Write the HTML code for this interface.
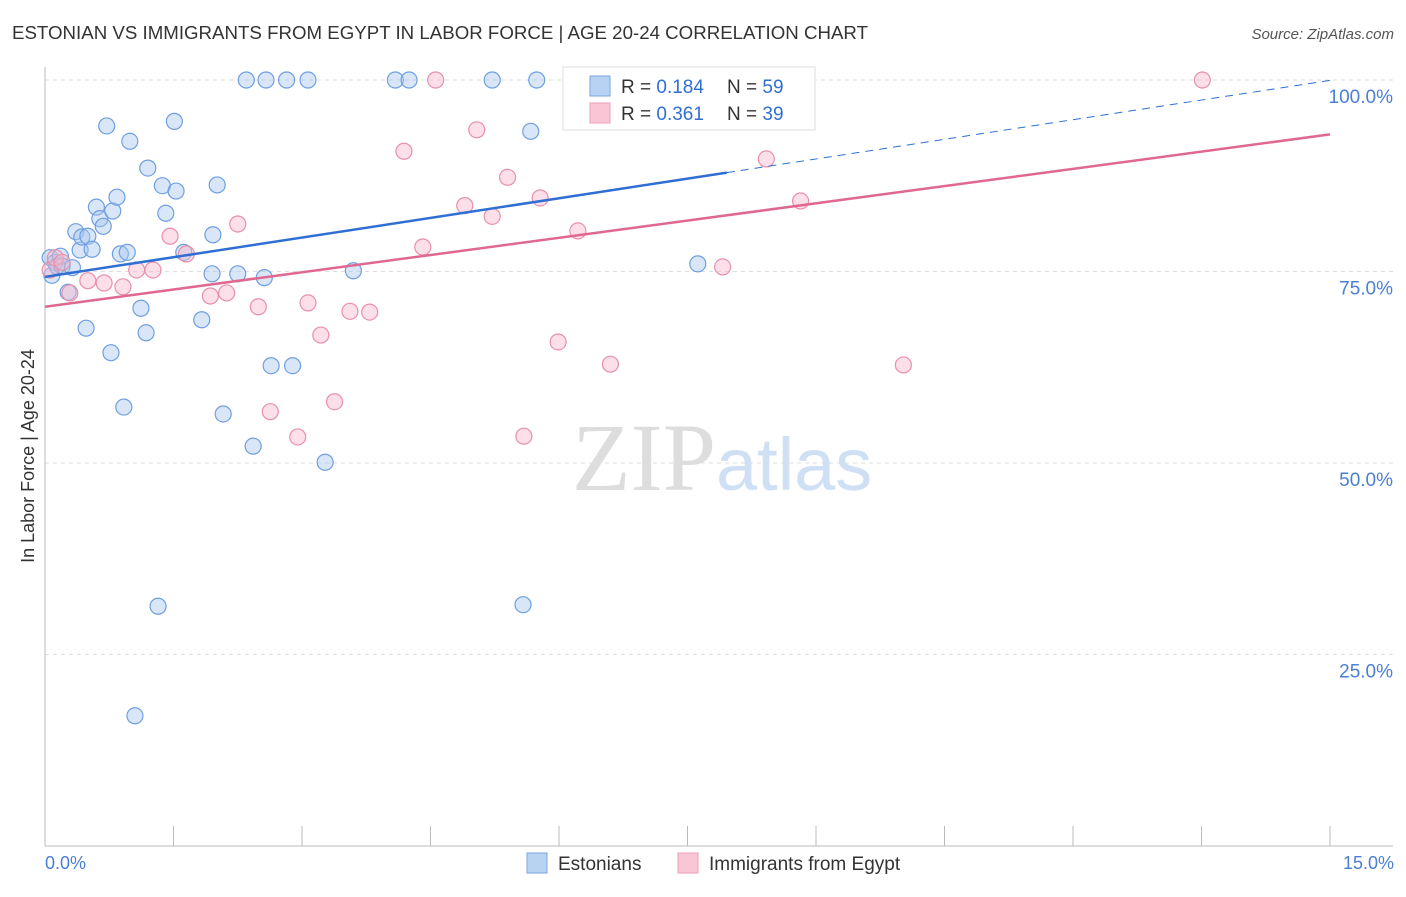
<!DOCTYPE html>
<html><head><meta charset="utf-8"><style>
body{margin:0;background:#fff;font-family:"Liberation Sans",sans-serif;}
</style></head><body>
<svg width="1406" height="892" xmlns="http://www.w3.org/2000/svg" font-family="Liberation Sans, sans-serif">
<text x="12" y="39" font-size="18" fill="#333" textLength="856" lengthAdjust="spacingAndGlyphs">ESTONIAN VS IMMIGRANTS FROM EGYPT IN LABOR FORCE | AGE 20-24 CORRELATION CHART</text>
<text x="1394" y="39" font-size="15" fill="#555" text-anchor="end" font-style="italic">Source: ZipAtlas.com</text>
<g id="grid"></g>
<text x="716" y="490" font-size="96" fill="#ddd" text-anchor="end" font-family="Liberation Serif, serif">ZIP</text>
<text x="716" y="490" font-size="74" fill="#cfe0f5">atlas</text>
<g id="pts"></g>
<g id="reg"></g>
<text transform="translate(34,456) rotate(-90)" font-size="18" fill="#333" text-anchor="middle">In Labor Force | Age 20-24</text>
<text x="45" y="869" font-size="18" fill="#4a7fd4">0.0%</text>
<text x="1394" y="869" font-size="18" fill="#4a7fd4" text-anchor="end">15.0%</text>
<g>
<rect x="563" y="67" width="252" height="63" fill="#fff" stroke="#ddd"/>
<rect x="590" y="76" width="20" height="20" fill="#b8d2f4" stroke="#7aa6e0"/>
<rect x="590" y="103" width="20" height="20" fill="#f9c6d5" stroke="#eba0b8"/>
<text x="621" y="93" font-size="19" fill="#333">R = <tspan fill="#2f6fd4">0.184</tspan></text>
<text x="727" y="93" font-size="19" fill="#333">N = <tspan fill="#2f6fd4">59</tspan></text>
<text x="621" y="120" font-size="19" fill="#333">R = <tspan fill="#2f6fd4">0.361</tspan></text>
<text x="727" y="120" font-size="19" fill="#333">N = <tspan fill="#2f6fd4">39</tspan></text>
</g>
<g>
<rect x="527" y="853" width="20" height="20" fill="#b8d2f4" stroke="#7aa6e0"/>
<text x="558" y="870" font-size="19" fill="#333">Estonians</text>
<rect x="678" y="853" width="20" height="20" fill="#f9c6d5" stroke="#eba0b8"/>
<text x="709" y="870" font-size="19" fill="#333">Immigrants from Egypt</text>
</g>
</svg>
<script>
const yTicks=[100,75,50,25];
const yTickLabels=["100.0%","75.0%","50.0%","25.0%"];
const blueX=[.06,.08,.12,.14,.18,.20,.27,.32,.36,.41,.43,.48,.50,.55,.60,.64,.68,.72,.77,.79,.84,.88,.92,.96,.99,1.05,1.12,1.18,1.20,1.32,1.37,1.41,1.51,1.53,1.62,1.83,1.95,1.96,2.01,2.08,2.25,2.35,2.43,2.56,2.58,2.64,2.82,2.89,3.07,3.27,3.60,4.09,4.25,5.22,5.58,5.67,5.74,7.62,7.86];
const blueY=[76.8,74.5,76.2,75.7,77.0,75.7,72.3,75.5,80.2,77.8,79.5,67.6,79.6,77.9,83.4,81.9,80.9,94.0,64.4,82.9,84.7,77.3,57.3,77.5,92.0,17.0,70.2,67.0,88.5,31.3,86.2,82.6,94.6,85.5,77.5,68.7,74.7,79.8,86.3,56.4,74.7,100,52.2,74.2,100,62.7,100,62.7,100,50.1,75.1,100,100,100,31.5,93.3,100,76.0,100];
const pinkX=[.06,.12,.20,.29,.50,.69,.91,1.07,1.26,1.46,1.65,1.93,2.12,2.25,2.49,2.63,2.95,3.07,3.22,3.38,3.56,3.79,4.19,4.41,4.56,4.90,5.04,5.22,5.40,5.59,5.78,5.99,6.22,6.60,7.91,8.42,8.82,10.02,13.51];
const pinkY=[75.2,76.8,76.2,72.2,73.8,73.5,73.0,75.2,75.2,79.6,77.3,71.8,72.2,81.2,70.4,56.7,53.4,70.9,66.7,58.0,69.8,69.7,90.7,78.2,100,83.6,93.5,82.2,87.3,53.5,84.6,65.8,80.3,62.9,75.6,89.7,84.2,62.8,100];
const blueReg=[74.3,1.71], pinkReg=[70.4,1.5];
const NS="http://www.w3.org/2000/svg";
const sx=v=>45+v/15*1285, sy=v=>846-v/100*766;
function mk(tag,attrs,parent){const e=document.createElementNS(NS,tag);for(const k in attrs)e.setAttribute(k,attrs[k]);parent.appendChild(e);return e;}
const g=document.getElementById('grid');
yTicks.forEach((t,i)=>{
 const l=mk('line',{x1:45,x2:1393,y1:sy(t),y2:sy(t),stroke:'#ddd','stroke-dasharray':'4,4'},g);
 
 
 const tx=mk('text',{x:1393,y:sy(t)+23,'font-size':19,fill:'#4a7fd4','text-anchor':'end'},g);
 tx.textContent=yTickLabels[i];
 
 
});
let ax=mk('line',{x1:45,x2:1393,y1:846,y2:846,stroke:'#bbb'},g);


let ay=mk('line',{x1:45,x2:45,y1:67,y2:846,stroke:'#bbb'},g);


for(let i=1;i<=10;i++){const t=mk('line',{x1:sx(i*1.5),x2:sx(i*1.5),y1:826,y2:846,stroke:'#bbb'},g);
 
 }
const p=document.getElementById('pts');
function dots(X,Y,fill,stroke,name){X.forEach((x,i)=>{const c=mk('circle',{cx:sx(x),cy:sy(Y[i]),r:8,fill:fill,'fill-opacity':0.45,stroke:stroke,'stroke-width':1.2},p);
 
 });}
dots(blueX,blueY,'#a8c8f0','#6f9fe0','estonian-point');
dots(pinkX,pinkY,'#f8b8cc','#e890aa','egypt-point');
const r=document.getElementById('reg');
const xe=7.96;
let b1=mk('line',{x1:sx(0),y1:sy(blueReg[0]),x2:sx(xe),y2:sy(blueReg[0]+blueReg[1]*xe),stroke:'#2f6fd4','stroke-width':2.5},r);


let b2=mk('line',{x1:sx(xe),y1:sy(blueReg[0]+blueReg[1]*xe),x2:sx(15),y2:sy(blueReg[0]+blueReg[1]*15),stroke:'#2f6fd4','stroke-width':1,'stroke-dasharray':'8,6'},r);


let p1=mk('line',{x1:sx(0),y1:sy(pinkReg[0]),x2:sx(15),y2:sy(pinkReg[0]+pinkReg[1]*15),stroke:'#e06890','stroke-width':2.5},r);


</script>
</body></html>
